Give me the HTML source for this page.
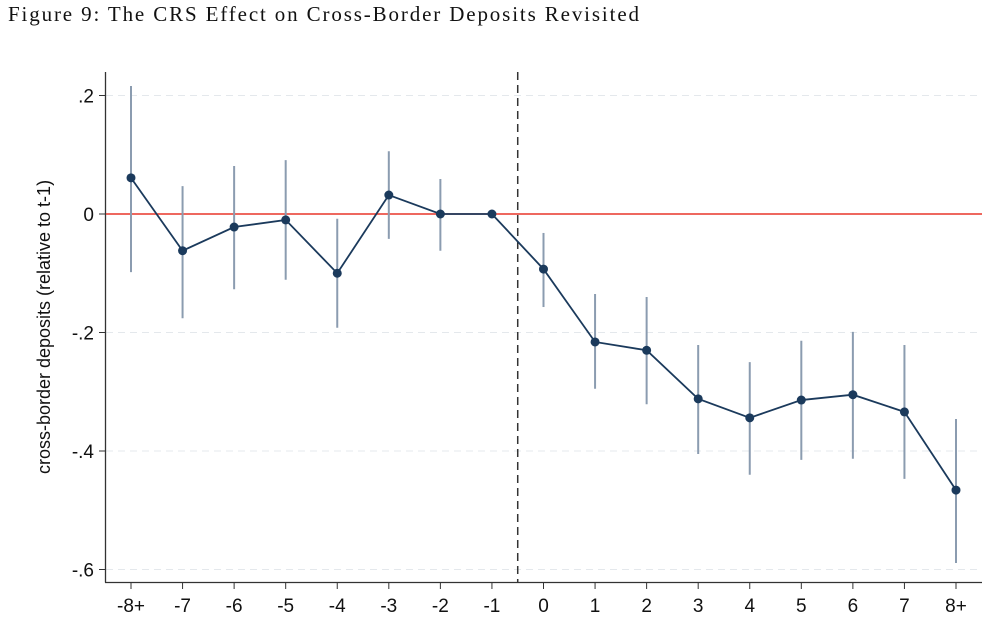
<!DOCTYPE html>
<html><head><meta charset="utf-8"><style>
html,body{margin:0;padding:0;background:#fff;width:1000px;height:625px;overflow:hidden}
svg{display:block}
</style></head><body>
<svg id="chart" width="1000" height="625">
<text x="8" y="21" textLength="631" lengthAdjust="spacing" font-family="Liberation Serif, serif" font-size="21" fill="#111">Figure 9: The CRS Effect on Cross-Border Deposits Revisited</text>
<text transform="translate(50,327) rotate(-90)" text-anchor="middle" font-family="Liberation Sans, sans-serif" font-size="18" fill="#111">cross-border deposits (relative to t-1)</text>
<g id="grid"></g><g id="axes"></g><g id="marks"></g>
</svg>
<script>
const categories=["-8+","-7","-6","-5","-4","-3","-2","-1","0","1","2","3","4","5","6","7","8+"];
const coef=[0.061,-0.062,-0.022,-0.010,-0.100,0.032,0.000,0.000,-0.093,-0.216,-0.230,-0.312,-0.344,-0.314,-0.305,-0.334,-0.466];
const ciHigh=[0.216,0.047,0.081,0.091,-0.008,0.106,0.059,null,-0.032,-0.135,-0.140,-0.221,-0.250,-0.214,-0.199,-0.221,-0.346];
const ciLow=[-0.098,-0.176,-0.127,-0.111,-0.192,-0.042,-0.062,null,-0.157,-0.295,-0.321,-0.405,-0.440,-0.415,-0.413,-0.447,-0.589];
const yTicks=[0.2,0,-0.2,-0.4,-0.6];
const yTickLabels=[".2","0","-.2","-.4","-.6"];
const NS="http://www.w3.org/2000/svg";
const X0=131,X1=956,Y0=214,YPER=592.5;
const x=i=>X0+i*(X1-X0)/(categories.length-1);
const y=v=>Y0-v*YPER;
function mk(parent,tag,attrs){const e=document.createElementNS(NS,tag);for(const k in attrs)e.setAttribute(k,attrs[k]);document.getElementById(parent).appendChild(e);return e;}
yTicks.forEach((t,i)=>{
 if(t!==0){const g=mk('grid','line',{x1:106,x2:980,y1:y(t),y2:y(t),stroke:'#e4e8ec','stroke-width':1,'stroke-dasharray':'7,5'});
 
 }
 const tk=mk('axes','line',{x1:99,x2:106,y1:y(t),y2:y(t),stroke:'#333','stroke-width':1});
 
 
 const lb=mk('axes','text',{x:94,y:y(t)+7,'text-anchor':'end','font-family':'Liberation Sans, sans-serif','font-size':19,fill:'#111'});
 lb.textContent=yTickLabels[i];
 
 
});
const ya=mk('axes','line',{x1:105.5,x2:105.5,y1:72,y2:582.5,stroke:'#333','stroke-width':1.3});


const xa=mk('axes','line',{x1:105,x2:982,y1:582.5,y2:582.5,stroke:'#333','stroke-width':1.3});


categories.forEach((c,i)=>{
 const tk=mk('axes','line',{x1:x(i),x2:x(i),y1:582.5,y2:589,stroke:'#333','stroke-width':1});
 
 
 const lb=mk('axes','text',{x:x(i),y:612,'text-anchor':'middle','font-family':'Liberation Sans, sans-serif','font-size':19,fill:'#111'});
 lb.textContent=c;
 
 
});
const zl=mk('marks','line',{x1:106,x2:982,y1:y(0),y2:y(0),stroke:'#e8372a','stroke-width':1.5});


const ev=(x(7)+x(8))/2;
const vl=mk('marks','line',{x1:ev,x2:ev,y1:72,y2:582,stroke:'#333','stroke-width':1.5,'stroke-dasharray':'8,5'});


categories.forEach((c,i)=>{
 if(ciHigh[i]===null)return;
 const l=mk('marks','line',{x1:x(i),x2:x(i),y1:y(ciHigh[i]),y2:y(ciLow[i]),stroke:'#8b9cb0','stroke-width':2});
 
 
});
const pl=mk('marks','polyline',{points:coef.map((v,i)=>x(i)+','+y(v)).join(' '),fill:'none',stroke:'#1b3a5c','stroke-width':1.8});


coef.forEach((v,i)=>{
 const p=mk('marks','circle',{cx:x(i),cy:y(v),r:4.5,fill:'#1b3a5c'});
 
 
});
</script>
</body></html>
